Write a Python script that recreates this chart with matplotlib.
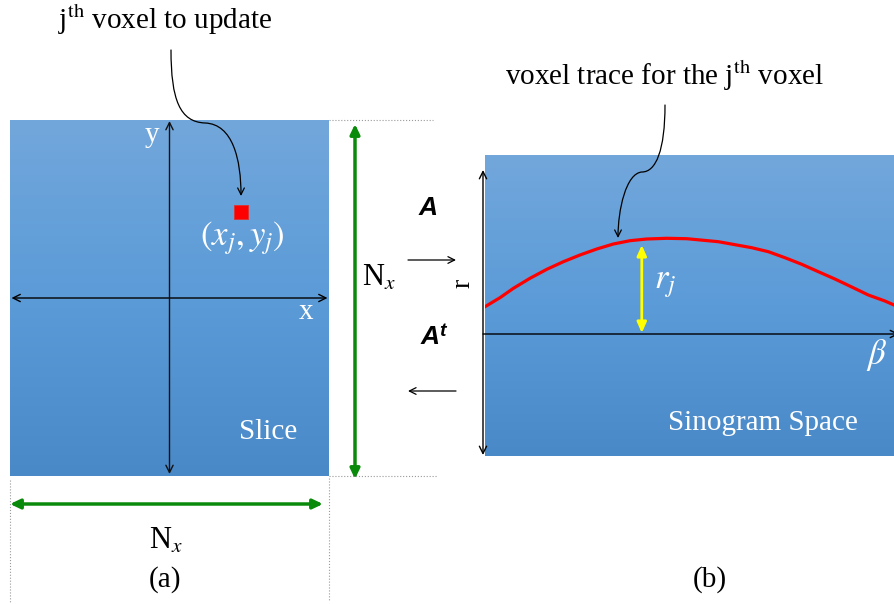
import matplotlib
matplotlib.use('Agg')
import matplotlib.pyplot as plt
import numpy as np
from matplotlib.patches import FancyArrowPatch
from matplotlib.path import Path
from matplotlib.colors import LinearSegmentedColormap

plt.rcParams['font.family'] = ['Liberation Serif', 'DejaVu Serif']
plt.rcParams['mathtext.fontset'] = 'stix'

W, H = 894, 604

# ---- data ----
trace_beta = [0, 6.6, 12.5, 19.8, 27.2, 34.5, 41.8, 49.2, 56.5, 63.8, 71.2, 80.0, 88.8,
              102.7, 117.4, 124.7, 132.0, 139.4, 146.7, 154.0, 161.4, 168.7, 176.0, 180.0]
trace_r = [27.3, 36.3, 45.7, 55.7, 64.7, 72.3, 79.0, 85.0, 90.0, 93.3, 95.0, 95.7, 95.3,
           92.3, 86.3, 82.3, 76.3, 69.7, 62.3, 55.0, 47.0, 39.0, 33.0, 29.0]
beta_j, r_j = 69, 89
voxel_x, voxel_y = 71.5, 86

fig = plt.figure(figsize=(W / 100, H / 100), dpi=100)


def px_axes(x0, y0, x1, y1, **kw):
    return fig.add_axes([x0 / W, 1 - y1 / H, (x1 - x0) / W, (y1 - y0) / H], **kw)


cmap = LinearSegmentedColormap.from_list('g', ['#72A7DB', '#5B9BD8', '#4A89C8'])
grad = np.linspace(0, 1, 256).reshape(-1, 1)

# ---- slice panel ----
axs = px_axes(10, 120, 329, 476)
axs.set_xlim(-159.5, 159.5)
axs.set_ylim(-178, 178)
axs.imshow(grad, cmap=cmap, extent=(-159.5, 159.5, -178, 178), aspect='auto', origin='upper')
axs.axis('off')
axs.add_patch(FancyArrowPatch((-158, 0), (158, 0), arrowstyle='<->', mutation_scale=13,
                              lw=1.0, color='black', shrinkA=0, shrinkB=0))
axs.add_patch(FancyArrowPatch((0, -176), (0, 177), arrowstyle='<->', mutation_scale=13,
                              lw=1.0, color='#111111', shrinkA=0, shrinkB=0))
axs.plot([voxel_x], [voxel_y], marker='s', ms=9.5, color='#FF0000', mec='#E03030', mew=0.6)

# ---- sinogram panel ----
axg = px_axes(485, 155, 894, 456)
axg.set_xlim(0, 180)
axg.set_ylim(-122, 179)
axg.imshow(grad, cmap=cmap, extent=(0, 180, -122, 179), aspect='auto', origin='upper')
axg.axis('off')
axg.plot(trace_beta, trace_r, color='#FF0000', lw=2.3, solid_joinstyle='round')
axg.add_patch(FancyArrowPatch((beta_j, 1), (beta_j, r_j),
                              arrowstyle='<|-|>,head_length=0.45,head_width=0.2',
                              mutation_scale=14, lw=2.0, color='#FFFF00', shrinkA=0, shrinkB=0))

# ---- overlay ----
ov = fig.add_axes([0, 0, 1, 1])
ov.set_xlim(0, W)
ov.set_ylim(H, 0)
ov.axis('off')
ov.patch.set_alpha(0)

dot = dict(color='#9a9a9a', lw=0.8, ls=':')
ov.plot([329, 433], [120, 120], **dot)
ov.plot([329, 437], [476, 476], **dot)
ov.plot([10, 10], [480, 604], **dot)
ov.plot([329, 329], [478, 600], **dot)

green = '#0A8A0A'
gstyle = '<|-|>,head_length=0.42,head_width=0.2'
ov.add_patch(FancyArrowPatch((355, 124), (355, 479), arrowstyle=gstyle, mutation_scale=14,
                             lw=2.5, color=green, shrinkA=0, shrinkB=0))
ov.add_patch(FancyArrowPatch((10, 504), (323, 504), arrowstyle=gstyle, mutation_scale=14,
                             lw=2.5, color=green, shrinkA=0, shrinkB=0))

# sinogram axes
ov.add_patch(FancyArrowPatch((483, 455), (483, 170), arrowstyle='<->', mutation_scale=13,
                             lw=1.0, color='black', shrinkA=0, shrinkB=0))
ov.add_patch(FancyArrowPatch((483, 334), (899, 334), arrowstyle='->', mutation_scale=13,
                             lw=1.0, color='black', shrinkA=0, shrinkB=0))

# A / A^t arrows
ov.add_patch(FancyArrowPatch((408, 260), (456, 260), arrowstyle='->', mutation_scale=12,
                             lw=0.9, color='black', shrinkA=0, shrinkB=0))
ov.add_patch(FancyArrowPatch((456, 391), (408, 391), arrowstyle='->', mutation_scale=12,
                             lw=0.9, color='black', shrinkA=0, shrinkB=0))

# curved callout arrows
p1 = Path([(171, 50), (171, 100), (180, 122), (205, 123), (233, 124), (241, 160), (241, 196)],
          [Path.MOVETO, Path.CURVE4, Path.CURVE4, Path.CURVE4, Path.CURVE4, Path.CURVE4, Path.CURVE4])
ov.add_patch(FancyArrowPatch(path=p1, arrowstyle='->', mutation_scale=12, lw=0.9, color='black'))
p2 = Path([(665, 105), (665, 150), (656, 172), (642, 172), (626, 173), (618, 210), (618, 238)],
          [Path.MOVETO, Path.CURVE4, Path.CURVE4, Path.CURVE4, Path.CURVE4, Path.CURVE4, Path.CURVE4])
ov.add_patch(FancyArrowPatch(path=p2, arrowstyle='->', mutation_scale=12, lw=0.9, color='black'))

fs = 21
ov.text(165, 20, r'j$^{\mathrm{th}}$ voxel to update', fontsize=fs, ha='center', va='center')
ov.text(665, 76, r'voxel trace for the j$^{\mathrm{th}}$ voxel', fontsize=fs, ha='center', va='center')
ov.text(152, 135, 'y', fontsize=fs, color='white', ha='center', va='center')
ov.text(306, 312, 'x', fontsize=fs, color='white', ha='center', va='center')
ov.text(242, 238, r'$(x_j, y_j)$', fontsize=25, color='white', ha='center', va='center')
ov.text(268, 432, 'Slice', fontsize=fs, color='white', ha='center', va='center')
ov.text(379, 278, r'N$_x$', fontsize=22, ha='center', va='center')
ov.text(166, 541, r'N$_x$', fontsize=22, ha='center', va='center')
ov.text(165, 580, '(a)', fontsize=fs, ha='center', va='center')
ov.text(710, 580, '(b)', fontsize=fs, ha='center', va='center')
ov.text(428, 208, 'A', fontsize=19, family='Liberation Sans', weight='bold', style='italic',
        ha='center', va='center')
ov.text(430, 337, 'A', fontsize=19, family='Liberation Sans', weight='bold', style='italic',
        ha='center', va='center')
ov.text(442, 331, 't', fontsize=14, family='Liberation Sans', weight='bold', style='italic',
        ha='center', va='center')
ov.text(463, 283, 'r', fontsize=20, rotation=90, ha='center', va='center')
ov.text(665, 283, r'$r_j$', fontsize=25, color='white', ha='center', va='center')
ov.text(877, 355, r'$\beta$', fontsize=25, color='white', ha='center', va='center')
ov.text(763, 423, 'Sinogram Space', fontsize=fs, color='white', ha='center', va='center')

fig.savefig('out.png', dpi=100)
